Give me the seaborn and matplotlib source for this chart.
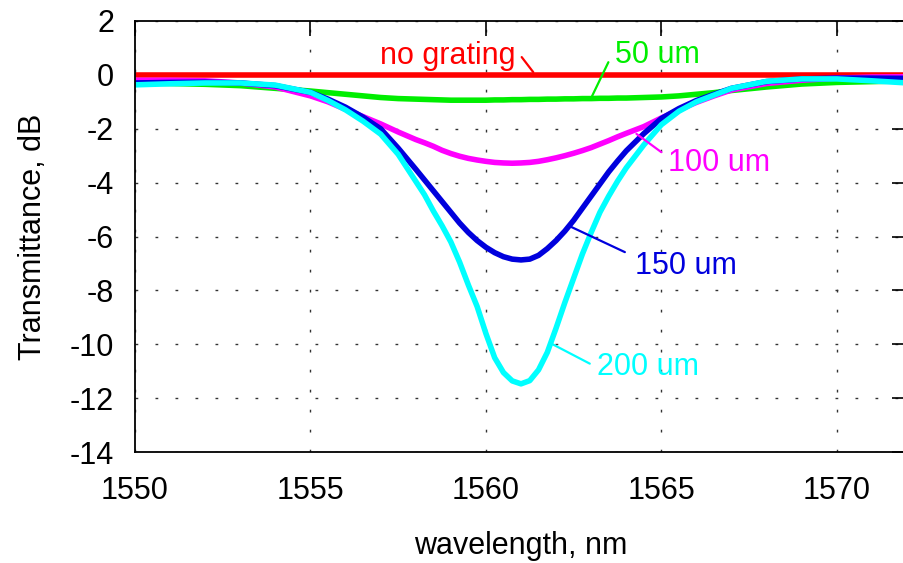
import numpy as np
import pandas as pd
import matplotlib
matplotlib.use("Agg")
import matplotlib.pyplot as plt
import seaborn as sns

# ---- data ----
wavelength = [1550, 1551, 1552, 1553, 1554, 1555,
              1555.5, 1556, 1556.5, 1557, 1557.5, 1558,
              1558.25, 1558.5, 1558.75, 1559, 1559.25, 1559.5, 1559.75, 1560,
              1560.25, 1560.5, 1560.75, 1561, 1561.25, 1561.5, 1561.75, 1562,
              1562.25, 1562.5, 1562.75, 1563, 1563.25, 1563.5, 1563.75, 1564,
              1564.5, 1565, 1565.5, 1566, 1566.5, 1567,
              1568, 1569, 1570, 1571, 1572]

no_grating = [0.0] * len(wavelength)

um50 = [-0.30, -0.32, -0.35, -0.40, -0.50, -0.60,
        -0.66, -0.72, -0.78, -0.84, -0.88, -0.90,
        -0.91, -0.92, -0.93, -0.94, -0.94, -0.94, -0.94, -0.94,
        -0.93, -0.93, -0.92, -0.92, -0.91, -0.91, -0.90, -0.90,
        -0.89, -0.89, -0.88, -0.88, -0.87, -0.87, -0.86, -0.86,
        -0.84, -0.82, -0.78, -0.72, -0.66, -0.58,
        -0.45, -0.34, -0.28, -0.25, -0.22]

um100 = [-0.20, -0.20, -0.22, -0.30, -0.45, -0.78,
         -1.00, -1.28, -1.55, -1.82, -2.12, -2.40,
         -2.52, -2.65, -2.80, -2.92, -3.02, -3.10, -3.16, -3.21,
         -3.25, -3.27, -3.28, -3.27, -3.25, -3.21, -3.15, -3.08,
         -3.00, -2.91, -2.81, -2.70, -2.57, -2.44, -2.30, -2.17,
         -1.92, -1.60, -1.30, -1.02, -0.78, -0.56,
         -0.32, -0.20, -0.12, -0.08, -0.07]

um150 = [-0.30, -0.28, -0.27, -0.30, -0.40, -0.65,
         -0.90, -1.20, -1.57, -2.00, -2.72, -3.50,
         -3.90, -4.30, -4.70, -5.10, -5.50, -5.85, -6.15, -6.40,
         -6.60, -6.75, -6.84, -6.87, -6.84, -6.70, -6.45, -6.15,
         -5.80, -5.40, -4.95, -4.50, -4.05, -3.60, -3.20, -2.82,
         -2.18, -1.62, -1.25, -0.95, -0.72, -0.50,
         -0.25, -0.15, -0.12, -0.12, -0.13]

um200 = [-0.37, -0.33, -0.30, -0.30, -0.38, -0.65,
         -0.95, -1.30, -1.72, -2.20, -2.95, -3.95,
         -4.45, -5.05, -5.60, -6.20, -6.95, -7.80, -8.60, -9.60,
         -10.50, -11.05, -11.36, -11.47, -11.35, -10.95, -10.30, -9.40,
         -8.45, -7.55, -6.65, -5.85, -5.10, -4.50, -3.95, -3.45,
         -2.60, -1.85, -1.35, -1.00, -0.75, -0.50,
         -0.24, -0.15, -0.15, -0.22, -0.30]

series_names = ["no grating", "50 um", "100 um", "150 um", "200 um"]
series_values = [no_grating, um50, um100, um150, um200]
colors = ["#ff0000", "#00ee00", "#ff00ff", "#0000dd", "#00ffff"]

xticks = [1550, 1555, 1560, 1565, 1570]
yticks = [2, 0, -2, -4, -6, -8, -10, -12, -14]

# label text anchors (data coords, baseline) and leader lines (start, end)
label_pos = {
    "no grating": (1560.83, 0.41, "right"),
    "50 um": (1563.68, 0.45, "left"),
    "100 um": (1565.19, -3.57, "left"),
    "150 um": (1564.25, -7.41, "left"),
    "200 um": (1563.16, -11.16, "left"),
}
leaders = {
    "no grating": ((1561.02, 0.66), (1561.35, 0.10)),
    "50 um": ((1563.49, 0.47), (1563.01, -0.83)),
    "100 um": ((1565.00, -2.87), (1564.29, -2.19)),
    "150 um": ((1563.96, -6.58), (1562.44, -5.65)),
    "200 um": ((1562.96, -10.72), (1561.87, -9.98)),
}

# ---- build long table ----
frames = []
for name, vals in zip(series_names, series_values):
    frames.append(pd.DataFrame({"wavelength": wavelength, "T": vals, "series": name}))
df = pd.concat(frames, ignore_index=True)

sns.set_style("white")
plt.rcParams["font.family"] = ["Liberation Sans", "DejaVu Sans"]
plt.rcParams["text.color"] = "black"
plt.rcParams["axes.labelcolor"] = "black"
plt.rcParams["xtick.color"] = "black"
plt.rcParams["ytick.color"] = "black"

fig = plt.figure(figsize=(9.04, 5.63), dpi=100)
ax = fig.add_axes([135 / 904, 1 - 452 / 563, (907 - 135) / 904, (452 - 21) / 563])

sns.lineplot(data=df, x="wavelength", y="T", hue="series", hue_order=series_names,
             palette=colors, linewidth=4.0, legend=False, ax=ax, sort=True)

ax.set_xlim(1550, 1572)
ax.set_ylim(-14, 2)
ax.set_xticks(xticks)
ax.set_yticks(yticks)
ax.set_xticklabels([str(t) for t in xticks])
ax.set_yticklabels([str(t) for t in yticks])

ax.grid(True, color="#333333", linestyle=(0, (2.0, 12.4)), linewidth=1.0)
ax.tick_params(direction="in", length=11, width=1.2, top=True, right=True,
               labelsize=22)
ax.tick_params(axis="x", pad=17)
ax.tick_params(axis="y", pad=15)
for s in ax.spines.values():
    s.set_color("black")
    s.set_linewidth(1.3)

ax.set_xlabel("wavelength, nm", fontsize=22, labelpad=18)
ax.set_ylabel("Transmittance, dB", fontsize=22, labelpad=16)

for name, col in zip(series_names, colors):
    tx, ty, ha = label_pos[name]
    ax.text(tx, ty, name, color=col, fontsize=22, ha=ha, va="baseline")
    (x0, y0), (x1, y1) = leaders[name]
    ax.plot([x0, x1], [y0, y1], color=col, linewidth=1.6)

fig.savefig("out.png", dpi=100)
